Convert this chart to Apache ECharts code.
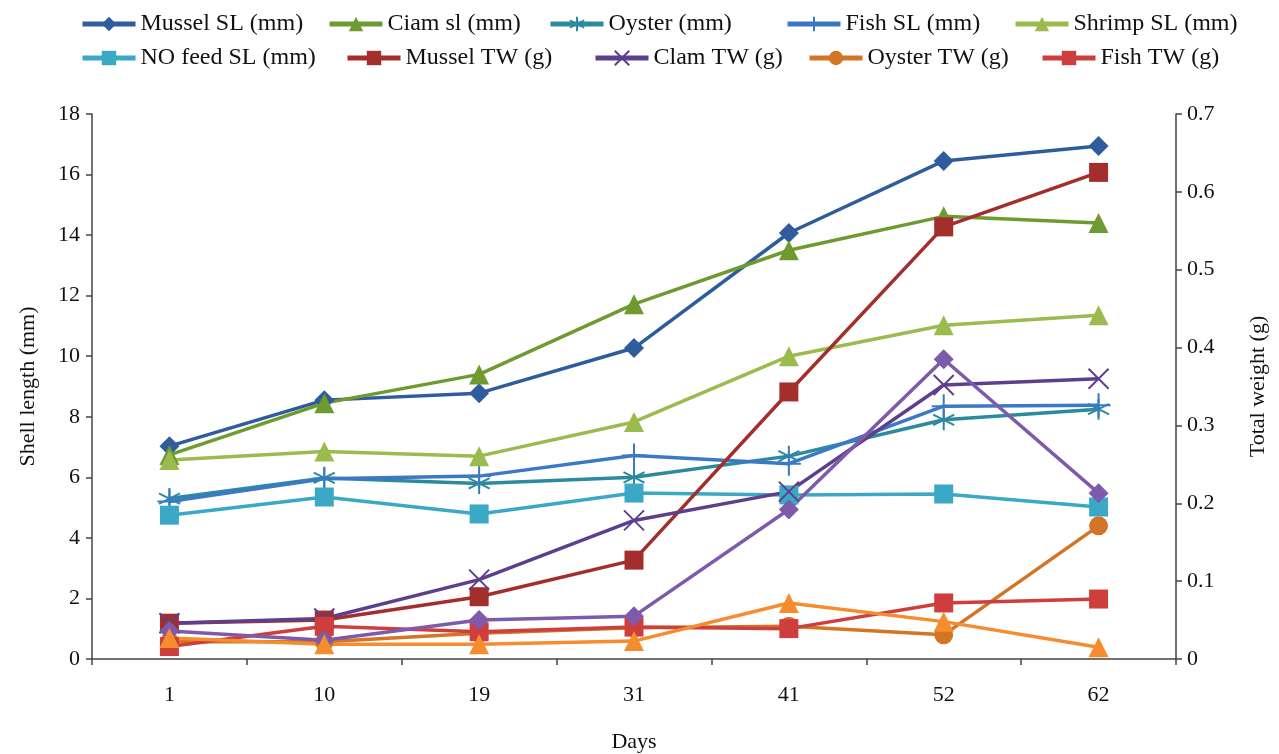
<!DOCTYPE html>
<html><head><meta charset="utf-8">
<script src="https://cdn.jsdelivr.net/npm/echarts@6/dist/echarts.min.js"></script>
<style>html,body{margin:0;padding:0;background:#fff}#c{width:1279px;height:754px}</style>
</head><body><div id="c"></div>
<script>
const days = ['1','10','19','31','41','52','62'];
const musselSL = [7.03, 8.55, 8.78, 10.27, 14.07, 16.45, 16.94];
const clamSL = [6.74, 8.45, 9.4, 11.72, 13.5, 14.62, 14.4];
const oysterSL = [5.3, 5.98, 5.8, 6.0, 6.7, 7.9, 8.25];
const fishSL = [5.2, 5.95, 6.04, 6.72, 6.45, 8.35, 8.38];
const shrimpSL = [6.57, 6.85, 6.7, 7.83, 10.0, 11.02, 11.35];
const noFeedSL = [4.75, 5.35, 4.79, 5.48, 5.42, 5.45, 5.02];
const musselTW = [0.046, 0.05, 0.08, 0.127, 0.343, 0.555, 0.625];
const clamTW = [0.046, 0.052, 0.102, 0.178, 0.215, 0.352, 0.36];
const oysterTW = [0.022, 0.022, 0.033, 0.04, 0.042, 0.031, 0.171];
const fishTW = [0.016, 0.042, 0.035, 0.041, 0.039, 0.072, 0.077];
const shrimpTW = [0.036, 0.024, 0.05, 0.055, 0.192, 0.385, 0.213];
const noFeedTW = [0.027, 0.019, 0.019, 0.023, 0.072, 0.048, 0.015];

const legendRow1 = ['Mussel SL (mm)','Ciam sl (mm)','Oyster (mm)','Fish SL (mm)','Shrimp SL (mm)'];
const legendRow2 = ['NO feed SL (mm)','Mussel TW (g)','Clam TW (g)','Oyster TW (g)','Fish TW (g)'];
const legendX1 = [80, 327, 548, 785, 1013];
const legendX2 = [80, 345, 593, 807, 1040];

const ASTER = 'path://M0,-10L0,10M-9,-5L9,5M-9,5L9,-5';
const XMARK = 'path://M-9,-9L9,9M-9,9L9,-9';
const PLUS = 'path://M0,-12L0,12M-3,0L3,0';

function S(name, data, color, symbol, size, yIdx, stroke) {
  return {
    name, type: 'line', data, yAxisIndex: yIdx, symbol, symbolSize: size,
    lineStyle: { color, width: 3.5 },
    itemStyle: stroke ? { color: 'rgba(0,0,0,0)', borderColor: color, borderWidth: 2 } : { color },
    color, z: 2
  };
}

const font = 'Liberation Serif';
function leg(name, left, top) {
  return { data: [name], left, top, padding: 0, itemWidth: 53, itemHeight: 18, itemGap: 0,
    lineStyle: { width: 5 },
    textStyle: { fontFamily: font, fontSize: 24, color: '#111' } };
}
const legends = [];
legendRow1.forEach((n, i) => legends.push(leg(n, legendX1[i], 12)));
legendRow2.forEach((n, i) => legends.push(leg(n, legendX2[i], 46)));

const chart = echarts.init(document.getElementById('c'));
chart.setOption({
  animation: false,
  textStyle: { fontFamily: font },
  legend: legends,
  grid: { left: 92, right: 103, top: 114, bottom: 95, containLabel: false, outerBoundsMode: 'none' },
  xAxis: {
    type: 'category', data: days, boundaryGap: true,
    name: 'Days', nameLocation: 'middle', nameGap: 72,
    nameTextStyle: { fontFamily: font, fontSize: 22, color: '#111' },
    axisLine: { lineStyle: { color: '#444', width: 1.5 } },
    axisTick: { show: true, length: 6, lineStyle: { color: '#444', width: 1.5 } },
    axisLabel: { fontFamily: font, fontSize: 22, color: '#111', margin: 25 }
  },
  yAxis: [
    { type: 'value', min: 0, max: 18, interval: 2, position: 'left',
      name: 'Shell length (mm)', nameLocation: 'middle', nameGap: 53,
      nameTextStyle: { fontFamily: font, fontSize: 22, color: '#111' },
      axisLine: { show: true, lineStyle: { color: '#444', width: 1.5 } },
      axisTick: { show: true, length: 6, lineStyle: { color: '#444', width: 1.5 } },
      axisLabel: { fontFamily: font, fontSize: 22, color: '#111', margin: 12 },
      splitLine: { show: false } },
    { type: 'value', min: 0, max: 0.7, interval: 0.1, position: 'right',
      name: 'Total weight (g)', nameLocation: 'middle', nameGap: 71,
      nameTextStyle: { fontFamily: font, fontSize: 22, color: '#111' },
      axisLine: { show: true, lineStyle: { color: '#444', width: 1.5 } },
      axisTick: { show: true, length: 6, lineStyle: { color: '#444', width: 1.5 } },
      axisLabel: { fontFamily: font, fontSize: 22, color: '#111', margin: 11 },
      splitLine: { show: false } }
  ],
  series: [
    S('Mussel SL (mm)', musselSL, '#2E5C9C', 'diamond', 20, 0),
    S('Ciam sl (mm)', clamSL, '#6F9A30', 'triangle', 20, 0),
    S('Oyster (mm)', oysterSL, '#2C8A9E', ASTER, 21, 0, true),
    S('Fish SL (mm)', fishSL, '#3B78C6', PLUS, 24, 0, true),
    S('Shrimp SL (mm)', shrimpSL, '#9BBB4E', 'triangle', 20, 0),
    S('NO feed SL (mm)', noFeedSL, '#3BA8C6', 'rect', 19, 0),
    S('Mussel TW (g)', musselTW, '#A32E2C', 'rect', 19, 1),
    S('Clam TW (g)', clamTW, '#5E3F8E', XMARK, 20, 1, true),
    S('Oyster TW (g)', oysterTW, '#D27526', 'circle', 19, 1),
    S('Fish TW (g)', fishTW, '#CE3E3C', 'rect', 19, 1),
    S('Shrimp TW (g)', shrimpTW, '#7E5BAA', 'diamond', 20, 1),
    S('NO feed TW (g)', noFeedTW, '#F58C2E', 'triangle', 20, 1)
  ]
});
</script></body></html>
